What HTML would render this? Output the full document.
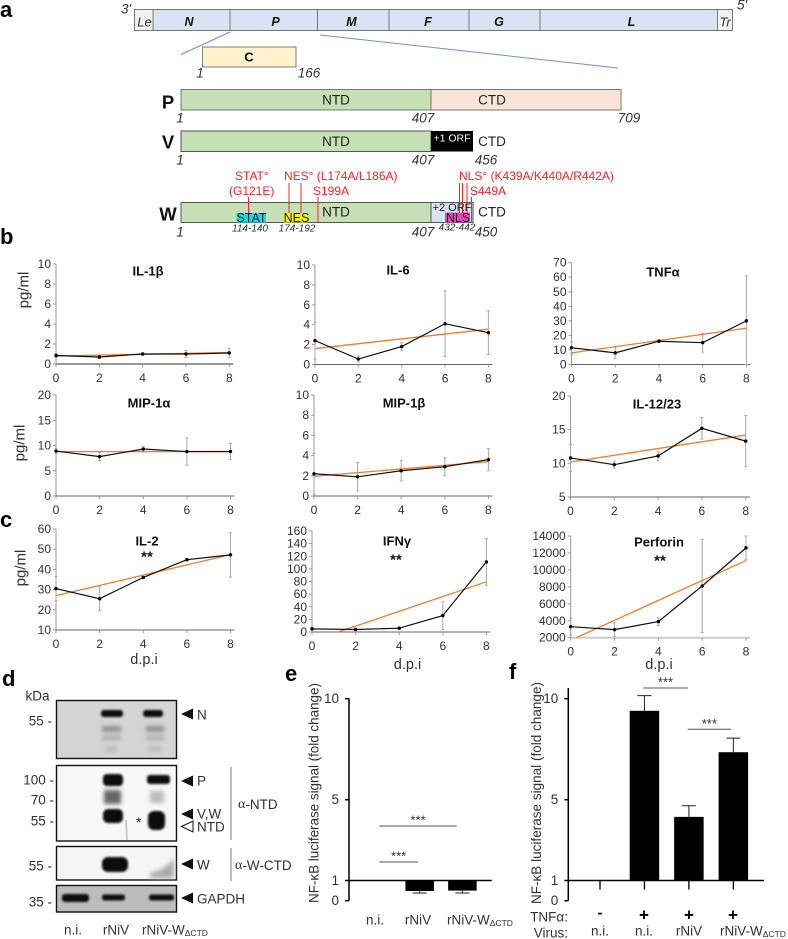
<!DOCTYPE html>
<html lang="en">
<head>
<meta charset="utf-8">
<title>Nipah virus figure</title>
<style>
html,body{margin:0;padding:0;background:#fff;width:788px;height:939px;overflow:hidden}
svg{display:block;font-family:"Liberation Sans",sans-serif}
text{fill:#333}
.lt{font-weight:bold;font-size:22px;fill:#000}
.gene{font-weight:bold;font-style:italic;font-size:12.5px;fill:#111;text-anchor:middle;dominant-baseline:central}
.dom{font-size:13.5px;fill:#222;text-anchor:middle;dominant-baseline:central}
.num{font-style:italic;font-size:13.5px;fill:#333;text-anchor:middle;dominant-baseline:central}
.small{font-style:italic;font-size:10px;fill:#333;text-anchor:middle;dominant-baseline:central}
.red{font-size:12px;fill:#f02828;dominant-baseline:central}
.prot{font-weight:bold;font-size:18.5px;fill:#111;text-anchor:middle;dominant-baseline:central}
.rl{stroke:#f02828;stroke-width:1}
.lab{font-size:13.5px;fill:#333;dominant-baseline:central}
.ttl{font-size:15px}
.dpi{font-size:14.5px}
.mid{text-anchor:middle}
.end{text-anchor:end}
</style>
</head>
<body>
<svg id="fig" xmlns="http://www.w3.org/2000/svg" width="788" height="939" viewBox="0 0 788 939">
<defs>
<filter id="b1" x="-30%" y="-60%" width="160%" height="220%"><feGaussianBlur stdDeviation="1"/></filter>
<filter id="b2" x="-30%" y="-60%" width="160%" height="220%"><feGaussianBlur stdDeviation="2.2"/></filter>
</defs>

<!-- panel letters -->
<text class="lt" x="0" y="17">a</text>
<text class="lt" x="0" y="244">b</text>
<text class="lt" x="0" y="527">c</text>
<text class="lt" x="2" y="686">d</text>
<text class="lt" x="285" y="681">e</text>
<text class="lt" x="509" y="679">f</text>

<!-- panel a genome -->
<g stroke="#777" stroke-width="1">
<rect x="134.5" y="9.5" width="18.5" height="21" fill="#f2f2f2"/>
<rect x="153" y="9.5" width="77" height="21" fill="#dae3f3"/>
<rect x="230" y="9.5" width="87.5" height="21" fill="#dae3f3"/>
<rect x="317.5" y="9.5" width="71.5" height="21" fill="#dae3f3"/>
<rect x="389" y="9.5" width="80" height="21" fill="#dae3f3"/>
<rect x="469" y="9.5" width="71" height="21" fill="#dae3f3"/>
<rect x="540" y="9.5" width="177.5" height="21" fill="#dae3f3"/>
<rect x="717.5" y="9.5" width="15" height="21" fill="#f2f2f2"/>
</g>
<text class="num" x="126" y="9">3'</text>
<text class="num" x="742" y="5">5'</text>
<text class="num" x="144.5" y="22" style="font-size:13px">Le</text>
<text class="gene" x="189" y="22">N</text>
<text class="gene" x="275.5" y="22">P</text>
<text class="gene" x="351.5" y="22">M</text>
<text class="gene" x="428" y="22">F</text>
<text class="gene" x="499" y="22">G</text>
<text class="gene" x="631.5" y="22">L</text>
<text class="num" x="725" y="22" style="font-size:13px">Tr</text>
<line x1="230" y1="32" x2="181" y2="54.5" stroke="#6f8fcf" stroke-width="1"/>
<line x1="320" y1="35" x2="618" y2="68" stroke="#6f8fcf" stroke-width="1"/>

<rect x="202.5" y="47" width="93.5" height="20" fill="#fff2cc" stroke="#7f7f7f"/>
<text class="gene" x="249" y="57" style="font-style:normal;font-size:13px">C</text>
<text class="num" x="200" y="73">1</text>
<text class="num" x="309" y="73">166</text>

<!-- P -->
<rect x="181" y="89.5" width="250" height="20.5" fill="#c5e0b4" stroke="#777"/>
<rect x="431" y="89.5" width="190" height="20.5" fill="#fbe5d6" stroke="#777"/>
<text class="dom" x="336" y="100">NTD</text>
<text class="dom" x="492" y="100">CTD</text>
<text class="prot" x="168" y="102">P</text>
<text class="num" x="180" y="118">1</text>
<text class="num" x="423" y="118">407</text>
<text class="num" x="629" y="118">709</text>

<!-- V -->
<rect x="181" y="131" width="250" height="20.5" fill="#c5e0b4" stroke="#555"/>
<rect x="431" y="131" width="42" height="20.5" fill="#000"/>
<text class="dom" x="336" y="141.5">NTD</text>
<text class="dom" x="452" y="138.5" style="fill:#fff;font-size:10.5px">+1 ORF</text>
<text class="dom" x="492" y="141.5">CTD</text>
<text class="prot" x="168" y="142">V</text>
<text class="num" x="180" y="160">1</text>
<text class="num" x="423" y="160">407</text>
<text class="num" x="486" y="160">456</text>

<!-- W -->
<text class="red" x="235" y="176">STAT°</text>
<text class="red" x="229" y="191">(G121E)</text>
<text class="red" x="284" y="176">NES° (L174A/L186A)</text>
<text class="red" x="313" y="191">S199A</text>
<text class="red" x="459" y="176">NLS° (K439A/K440A/R442A)</text>
<text class="red" x="470" y="191">S449A</text>
<rect x="181" y="202.5" width="250" height="20" fill="#c5e0b4" stroke="#555"/>
<rect x="431" y="202.5" width="42" height="20" fill="#dae3f3" stroke="#555"/>
<rect x="236.5" y="213" width="29.5" height="9.5" fill="#19d9e6"/>
<rect x="284" y="213" width="24" height="9.5" fill="#f7f20a"/>
<rect x="445" y="212.5" width="25" height="10" fill="#d84cbc"/>
<g>
<line class="rl" x1="248.5" y1="197" x2="248.5" y2="213"/>
<line class="rl" x1="289" y1="183" x2="289" y2="213"/>
<line class="rl" x1="301" y1="183" x2="301" y2="213"/>
<line class="rl" x1="318" y1="197" x2="318" y2="222"/>
<line class="rl" x1="459.5" y1="183" x2="459.5" y2="213"/>
<line class="rl" x1="462.5" y1="183" x2="462.5" y2="213"/>
<line class="rl" x1="467" y1="183" x2="467" y2="213"/>
<line class="rl" x1="471.5" y1="197" x2="471.5" y2="222"/>
</g>
<text class="dom" x="251.5" y="218" style="font-size:12.5px">STAT</text>
<text class="dom" x="296.5" y="218" style="font-size:12.5px">NES</text>
<text class="dom" x="336" y="212">NTD</text>
<text class="dom" x="452" y="208" style="font-size:11px">+2 ORF</text>
<text class="dom" x="458" y="218" style="font-size:12.5px">NLS</text>
<text class="dom" x="492" y="212">CTD</text>
<text class="prot" x="168" y="214">W</text>
<text class="num" x="180" y="232">1</text>
<text class="small" x="250" y="229">114-140</text>
<text class="small" x="297" y="229">174-192</text>
<text class="num" x="423" y="232">407</text>
<text class="small" x="457" y="228">432-442</text>
<text class="num" x="486" y="232">450</text>

<!-- shared y titles -->
<text class="lab ttl mid" transform="translate(24,290) rotate(-90)">pg/ml</text>
<text class="lab ttl mid" transform="translate(20,443) rotate(-90)">pg/ml</text>
<text class="lab ttl mid" transform="translate(21,568) rotate(-90)">pg/ml</text>
<text class="lab dpi mid" x="144" y="660">d.p.i</text>
<text class="lab dpi mid" x="407.5" y="665">d.p.i</text>
<text class="lab dpi mid" x="659" y="665">d.p.i</text>

<!-- panel d blots -->
<g>
<rect x="56.5" y="700.5" width="120" height="58" fill="#d4d4d4" stroke="#111" stroke-width="1.4"/>
<g filter="url(#b1)"><rect x="101" y="710" width="22" height="7" rx="3" fill="#111"/><rect x="143" y="710" width="20" height="7" rx="3" fill="#111"/></g>
<g filter="url(#b2)" fill="#8f8f8f"><rect x="102" y="726" width="19" height="6"/><rect x="146" y="726" width="18" height="6"/><rect x="102" y="736" width="19" height="4" fill="#a8a8a8"/><rect x="146" y="736" width="18" height="4" fill="#a8a8a8"/><rect x="105" y="746" width="12" height="6" fill="#bbb"/><rect x="149" y="746" width="12" height="6" fill="#bbb"/></g>
</g>
<g>
<rect x="56.5" y="765.5" width="120" height="75.5" fill="#f7f7f7" stroke="#111" stroke-width="1.4"/>
<g filter="url(#b1)" fill="#0a0a0a"><rect x="103" y="774" width="20" height="12" rx="4"/><rect x="147" y="775" width="23" height="9" rx="3"/><rect x="103" y="809" width="20" height="14" rx="5"/><rect x="148" y="811" width="17" height="19" rx="6"/></g>
<g filter="url(#b2)"><rect x="104" y="790" width="17" height="14" fill="#666"/><rect x="150" y="791" width="14" height="12" fill="#bbb"/></g>
<line x1="126" y1="820" x2="127" y2="840" stroke="#ccc" stroke-width="2"/>
</g>
<g>
<rect x="56.5" y="846.5" width="120" height="33.5" fill="#f5f5f5" stroke="#111" stroke-width="1.4"/>
<rect x="102" y="857" width="26" height="15" rx="6" fill="#0a0a0a" filter="url(#b1)"/>
<path d="M150 873 Q165 870 174 858 L174 878 L150 878Z" fill="#aaa" filter="url(#b2)"/>
</g>
<g>
<rect x="56.5" y="885.5" width="120" height="26.5" fill="#bcbcbc" stroke="#111" stroke-width="1.4"/>
<g filter="url(#b1)" fill="#111"><rect x="62" y="894" width="27" height="8" rx="3"/><rect x="102" y="894.5" width="23" height="6" rx="2.5"/><rect x="149" y="894.5" width="25" height="6" rx="2.5"/></g>
</g>
<g>
<text class="lab" x="25.5" y="696">kDa</text>
<text class="lab end" x="52" y="721">55 -</text>
<text class="lab end" x="54" y="780">100 -</text>
<text class="lab end" x="54" y="800">70 -</text>
<text class="lab end" x="54" y="821">55 -</text>
<text class="lab end" x="52" y="866">55 -</text>
<text class="lab end" x="52" y="902">35 -</text>
<text class="lab" x="136" y="822" style="font-size:14px;fill:#111">*</text>
<polygon points="181,714 193,708.5 193,719.5" fill="#111"/>
<polygon points="181,781 193,775.5 193,786.5" fill="#111"/>
<polygon points="181,814 193,808.5 193,819.5" fill="#111"/>
<polygon points="181.5,826.5 193,821 193,832" fill="#fff" stroke="#111"/>
<polygon points="181,864 193,858.5 193,869.5" fill="#111"/>
<polygon points="181,898 193,892.5 193,903.5" fill="#111"/>
<text class="lab" x="197" y="715">N</text>
<text class="lab" x="197" y="781">P</text>
<text class="lab" x="197" y="814">V,W</text>
<text class="lab" x="197" y="827">NTD</text>
<text class="lab" x="197" y="865">W</text>
<text class="lab" x="197" y="899">GAPDH</text>
<line x1="231" y1="767" x2="231" y2="840" stroke="#777"/>
<line x1="231" y1="848" x2="231" y2="881" stroke="#777"/>
<text class="lab" x="238" y="804" style="font-family:'Liberation Serif',serif"><tspan style="font-size:14px">α</tspan><tspan style="font-family:'Liberation Sans',sans-serif">-NTD</tspan></text>
<text class="lab" x="235" y="865" style="font-family:'Liberation Serif',serif"><tspan style="font-size:14px">α</tspan><tspan style="font-family:'Liberation Sans',sans-serif">-W-CTD</tspan></text>
<text class="lab mid" x="73" y="930">n.i.</text>
<text class="lab mid" x="116" y="930">rNiV</text>
<text class="lab" x="142" y="930">rNiV-W<tspan dy="3" style="font-size:8.5px">ΔCTD</tspan></text>
</g>

<!-- labels e/f -->
<text class="lab mid" transform="translate(314,793) rotate(-90)" textLength="220">NF-κB luciferase signal (fold change)</text>
<text class="lab mid" transform="translate(536.5,793) rotate(-90)" textLength="222">NF-κB luciferase signal (fold change)</text>
<text class="lab mid" x="375" y="920">n.i.</text>
<text class="lab mid" x="418" y="920">rNiV</text>
<text class="lab" x="447" y="920">rNiV-W<tspan dy="3" style="font-size:8.5px">ΔCTD</tspan></text>
<text class="lab end" x="568" y="917">TNFα:</text>
<text class="lab end" x="568" y="933">Virus:</text>
<text class="lab mid" x="600" y="913" style="font-weight:bold;font-size:15px;fill:#000">-</text>
<text class="lab mid" x="644" y="915" style="font-weight:bold;font-size:17px;fill:#000">+</text>
<text class="lab mid" x="689" y="915" style="font-weight:bold;font-size:17px;fill:#000">+</text>
<text class="lab mid" x="733" y="915" style="font-weight:bold;font-size:17px;fill:#000">+</text>
<text class="lab mid" x="600" y="931">n.i.</text>
<text class="lab mid" x="644" y="931">n.i.</text>
<text class="lab mid" x="689" y="931">rNiV</text>
<text class="lab" x="720" y="931">rNiV-W<tspan dy="3" style="font-size:8.5px">ΔCTD</tspan></text>
</svg>

<script>
const days = [0, 2, 4, 6, 8];

const il1bMean = [0.85, 0.7, 1.0, 1.0, 1.1];
const il1bErr = [0.2, 0.15, 0.1, 0.35, 0.45];
const il1bTrend = [0.8, 1.15];
const il1bTicks = [0, 2, 4, 6, 8, 10];

const il6Mean = [2.4, 0.55, 1.8, 4.1, 3.2];
const il6Err = [1.85, 0.3, 0.4, 3.3, 2.2];
const il6Trend = [1.6, 3.55];
const il6Ticks = [0, 2, 4, 6, 8, 10];

const tnfMean = [11.5, 8, 16, 15, 30];
const tnfErr = [4, 4, 1, 6.5, 31];
const tnfTrend = [8, 25];
const tnfTicks = [0, 10, 20, 30, 40, 50, 60, 70];

const mip1aMean = [8.9, 7.8, 9.3, 8.8, 8.8];
const mip1aErr = [0.5, 0.8, 0.5, 2.7, 1.6];
const mip1aTrend = [8.8, 8.8];
const mip1aTicks = [0, 5, 10, 15, 20];

const mip1bMean = [2.2, 1.9, 2.5, 2.9, 3.6];
const mip1bErr = [2, 1.4, 1, 0.9, 1.1];
const mip1bTrend = [1.95, 3.4];
const mip1bTicks = [0, 2, 4, 6, 8, 10];

const il12Mean = [10.8, 9.8, 11.1, 15.2, 13.3];
const il12Err = [2, 0.5, 0.7, 1.6, 3.8];
const il12Trend = [10.2, 14.2];
const il12Ticks = [5, 10, 15, 20];

const il2Mean = [30.5, 25.5, 36, 44.8, 47.2];
const il2Err = [6, 6, 0.5, 0.5, 11];
const il2Trend = [27, 47.3];
const il2Ticks = [10, 20, 30, 40, 50, 60];

const ifngMean = [5, 4, 6, 26, 111];
const ifngErr = [2, 1, 1, 22, 37];
const ifngTrend = [-14, 79.5];
const ifngTicks = [0, 20, 40, 60, 80, 100, 120, 140, 160];

const perfMean = [3300, 2950, 3900, 8100, 12600];
const perfErr = [1000, 800, 450, 5500, 1400];
const perfTrend = [1700, 11100];
const perfTicks = [2000, 4000, 6000, 8000, 10000, 12000, 14000];

const eCategories = ['n.i.', 'rNiV', 'rNiV-W'];
const eValues = [1, 0.48, 0.5];
const eErrors = [0, 0.1, 0.12];
const eTicks = [0, 1, 5, 10];

const fCategories = ['n.i.', 'n.i. TNF', 'rNiV TNF', 'rNiV-W TNF'];
const fValues = [1, 9.4, 4.15, 7.35];
const fErrors = [0, 0.75, 0.55, 0.7];
const fTicks = [0, 1, 5, 10];

const NS = 'http://www.w3.org/2000/svg';
const fig = document.getElementById('fig');

function mk(tag, attrs, parent) {
  const el = document.createElementNS(NS, tag);
  for (const k in attrs) el.setAttribute(k, attrs[k]);
  (parent || fig).appendChild(el);
  return el;
}

function lineChart(c) {
  const g = mk('g', {});
  
  
  const sx = d => c.x0 + (c.x8 - c.x0) * d / 8;
  const sy = v => c.yBot - (c.yBot - c.yTop) * (v - c.vMin) / (c.vMax - c.vMin);

  const yAxis = mk('line', {x1: c.x0, x2: c.x0, y1: c.yTop, y2: c.yBot, stroke: '#999', 'stroke-width': 1}, g);
  
  
  const xAxis = mk('line', {x1: c.x0, x2: c.x8 + 4, y1: c.yBot, y2: c.yBot, stroke: c.axisColor || '#666', 'stroke-width': c.axisWidth || 1}, g);
  
  

  c.ticks.forEach(t => {
    const y = sy(t);
    const tk = mk('line', {x1: c.x0 - 3, x2: c.x0, y1: y, y2: y, stroke: '#999'}, g);
    
    
    const lb = mk('text', {x: c.x0 - 5, y: y, 'text-anchor': 'end', 'dominant-baseline': 'central', 'font-size': 12}, g);
    
    
    lb.textContent = t;
  });
  days.forEach(d => {
    const x = sx(d);
    const tk = mk('line', {x1: x, x2: x, y1: c.yBot, y2: c.yBot + 3, stroke: '#999'}, g);
    
    
    const lb = mk('text', {x: x, y: c.yBot + 14, 'text-anchor': 'middle', 'dominant-baseline': 'central', 'font-size': 12}, g);
    
    
    lb.textContent = d;
  });

  days.forEach((d, i) => {
    const x = sx(d);
    const top = sy(c.mean[i] + c.err[i]);
    const bot = Math.min(sy(c.mean[i] - c.err[i]), c.yBot);
    const e = mk('path', {d: `M${x} ${top}V${bot}M${x - 1.5} ${top}H${x + 1.5}M${x - 1.5} ${bot}H${x + 1.5}`, stroke: '#aaa', 'stroke-width': 1, fill: 'none'}, g);
    
    
  });

  let t0 = c.trend[0], d0 = 0;
  const slope = (c.trend[1] - c.trend[0]) / 8;
  if (t0 < c.vMin) { d0 = (c.vMin - t0) / slope; t0 = c.vMin; }
  const trend = mk('line', {x1: sx(d0), y1: sy(t0), x2: sx(8), y2: sy(c.trend[1]), stroke: '#ed7d31', 'stroke-width': 1.3}, g);
  
  

  const pts = days.map((d, i) => sx(d) + ',' + sy(c.mean[i])).join(' ');
  const pl = mk('polyline', {points: pts, fill: 'none', stroke: '#111', 'stroke-width': 1.2}, g);
  
  
  days.forEach((d, i) => {
    const p = mk('circle', {cx: sx(d), cy: sy(c.mean[i]), r: 1.7, fill: '#000'}, g);
    
    
  });

  const title = mk('text', {x: c.tx, y: c.ty, 'text-anchor': 'middle', 'dominant-baseline': 'central', 'font-size': 13, 'font-weight': 'bold', style: 'fill:#111'}, g);
  
  
  title.textContent = c.title;
  if (c.sig) {
    const s = mk('text', {x: c.sx, y: c.sy, 'text-anchor': 'middle', 'dominant-baseline': 'central', 'font-size': 15, 'font-weight': 'bold', style: 'fill:#111'}, g);
    
    
    s.textContent = c.sig;
  }
}

lineChart({id: 'il1b', title: 'IL-1β', tx: 148, ty: 271, x0: 56, x8: 229.3, yTop: 264, yBot: 364, vMin: 0, vMax: 10, mean: il1bMean, err: il1bErr, trend: il1bTrend, ticks: il1bTicks, axisColor: '#999', axisWidth: 2});
lineChart({id: 'il6', title: 'IL-6', tx: 398, ty: 270, x0: 315, x8: 488.4, yTop: 265, yBot: 364.5, vMin: 0, vMax: 10, mean: il6Mean, err: il6Err, trend: il6Trend, ticks: il6Ticks});
lineChart({id: 'tnfa', title: 'TNFα', tx: 663, ty: 272, x0: 571.5, x8: 746.4, yTop: 262.7, yBot: 364.5, vMin: 0, vMax: 70, mean: tnfMean, err: tnfErr, trend: tnfTrend, ticks: tnfTicks});
lineChart({id: 'mip1a', title: 'MIP-1α', tx: 149, ty: 403, x0: 56, x8: 230.5, yTop: 395, yBot: 496, vMin: 0, vMax: 20, mean: mip1aMean, err: mip1aErr, trend: mip1aTrend, ticks: mip1aTicks});
lineChart({id: 'mip1b', title: 'MIP-1β', tx: 404, ty: 403, x0: 314, x8: 488.4, yTop: 395, yBot: 496, vMin: 0, vMax: 10, mean: mip1bMean, err: mip1bErr, trend: mip1bTrend, ticks: mip1bTicks});
lineChart({id: 'il12', title: 'IL-12/23', tx: 657, ty: 404, x0: 570.5, x8: 745.7, yTop: 396, yBot: 497, vMin: 5, vMax: 20, mean: il12Mean, err: il12Err, trend: il12Trend, ticks: il12Ticks});
lineChart({id: 'il2', title: 'IL-2', tx: 147, ty: 541, sig: '**', sx: 147, sy: 557, x0: 56, x8: 230.5, yTop: 529, yBot: 630, vMin: 10, vMax: 60, mean: il2Mean, err: il2Err, trend: il2Trend, ticks: il2Ticks});
lineChart({id: 'ifng', title: 'IFNγ', tx: 397, ty: 541, sig: '**', sx: 396, sy: 560, x0: 312, x8: 486.4, yTop: 531, yBot: 632, vMin: 0, vMax: 160, mean: ifngMean, err: ifngErr, trend: ifngTrend, ticks: ifngTicks});
lineChart({id: 'perforin', title: 'Perforin', tx: 659, ty: 542, sig: '**', sx: 660, sy: 561, x0: 570.7, x8: 746, yTop: 536, yBot: 637.7, vMin: 2000, vMax: 14000, mean: perfMean, err: perfErr, trend: perfTrend, ticks: perfTicks, axisColor: '#ccc', axisWidth: 2});

function barChart(c) {
  const g = mk('g', {});
  
  
  const sy = v => 900.7 - 20.2 * v;
  const sx = i => c.first + c.step * i;

  const ya = mk('line', {x1: c.axisX, x2: c.axisX, y1: c.axisTop, y2: 900.7, stroke: '#000', 'stroke-width': 1.5}, g);
  
  
  c.ticks.forEach(t => {
    const tk = mk('line', {x1: c.axisX - 4, x2: c.axisX, y1: sy(t), y2: sy(t), stroke: '#000', 'stroke-width': 1.5}, g);
    
    
    const lb = mk('text', {x: c.axisX - 10, y: sy(t), 'text-anchor': 'end', 'dominant-baseline': 'central', 'font-size': 13.5}, g);
    
    
    lb.textContent = t;
  });

  c.values.forEach((v, i) => {
    if (v === 1) return;
    const x = sx(i);
    const hi = v > 1;
    const ye = hi ? sy(v + c.errors[i]) : sy(v - c.errors[i]);
    const e = mk('path', {d: `M${x} ${sy(v)}V${ye}M${x - c.cap} ${ye}H${x + c.cap}`, stroke: '#222', 'stroke-width': 1, fill: 'none'}, g);
    
    
    const b = mk('rect', {x: x - c.barW / 2, y: Math.min(sy(v), sy(1)), width: c.barW, height: Math.abs(sy(v) - sy(1)), fill: '#000'}, g);
    
    
  });

  const base = mk('line', {x1: c.axisX, x2: c.baseEnd, y1: sy(1), y2: sy(1), stroke: '#000', 'stroke-width': 1.5}, g);
  
  
  if (c.tickDown) {
    c.values.forEach((v, i) => {
      const tk = mk('line', {x1: sx(i), x2: sx(i), y1: sy(1), y2: sy(1) + 9, stroke: '#000', 'stroke-width': 1.3}, g);
      
      
    });
  }
  c.sigs.forEach(s => {
    const l = mk('line', {x1: s.from, x2: s.to, y1: s.y, y2: s.y, stroke: '#555', 'stroke-width': 1}, g);
    
    
    const t = mk('text', {x: (s.from + s.to) / 2, y: s.y - 6, 'text-anchor': 'middle', 'dominant-baseline': 'central', 'font-size': 13}, g);
    
    
    t.textContent = '***';
  });
}

barChart({id: 'nfkb-e', values: eValues, errors: eErrors, ticks: eTicks, axisX: 349, axisTop: 698.3, baseEnd: 491.7, first: 377, step: 42.7, barW: 28.5, cap: 7, tickDown: false,
  sigs: [{from: 379.3, to: 456.7, y: 826}, {from: 379.3, to: 418, y: 862}]});
barChart({id: 'nfkb-f', values: fValues, errors: fErrors, ticks: fTicks, axisX: 568.3, axisTop: 688, baseEnd: 764, first: 600, step: 44.45, barW: 29.5, cap: 7, tickDown: true,
  sigs: [{from: 643.3, to: 687.7, y: 688}, {from: 687.7, to: 731, y: 729.3}]});
</script>
</body>
</html>
